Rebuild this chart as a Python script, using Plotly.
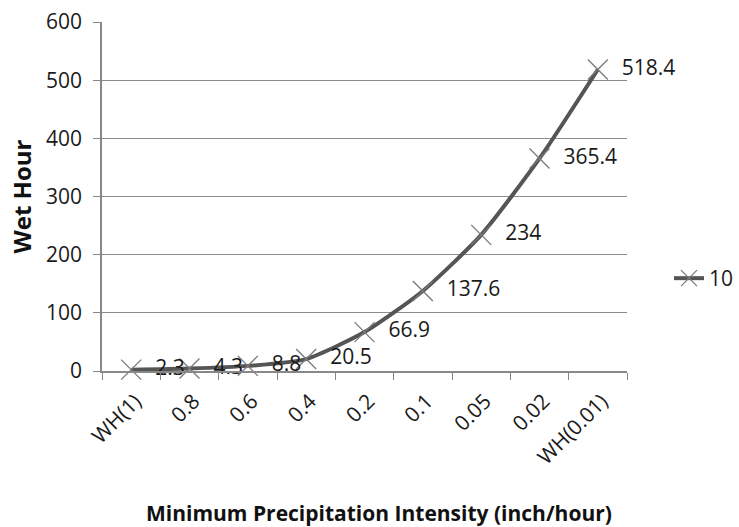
import plotly.graph_objects as go

categories = ["WH(1)", "0.8", "0.6", "0.4", "0.2", "0.1", "0.05", "0.02", "WH(0.01)"]
values = [2.3, 4.3, 8.8, 20.5, 66.9, 137.6, 234, 365.4, 518.4]
labels = ["2.3", "4.3", "8.8", "20.5", "66.9", "137.6", "234", "365.4", "518.4"]
series_name = "10"
x_title = "Minimum Precipitation Intensity (inch/hour)"
y_title = "Wet Hour"

FONT = "Open Sans"
TXT = "#1a1a1a"

fig = go.Figure()
fig.add_trace(go.Scatter(
    x=categories, y=values, name=series_name,
    mode="lines+markers+text",
    text=["\u2002" + t for t in labels], textposition="middle right",
    textfont=dict(family=FONT, size=21, color=TXT),
    line=dict(color="#555555", width=4, shape="spline", smoothing=0.6),
    marker=dict(symbol="x-thin-open", size=20, color="#7a7a7a",
                line=dict(color="#7a7a7a", width=1.3)),
    cliponaxis=False,
))

fig.add_annotation(
    text="<b>" + x_title + "</b>", xref="paper", yref="paper",
    x=0.528, y=-0.407, xanchor="center", yanchor="middle", showarrow=False,
    font=dict(family=FONT, size=21, color="#111111"),
)

fig.update_layout(
    width=739, height=527,
    margin=dict(l=102, r=112, t=22, b=156, autoexpand=False),
    paper_bgcolor="white", plot_bgcolor="white",
    font=dict(family=FONT, size=21, color=TXT),
    showlegend=True,
    legend=dict(x=1.08, y=0.265, xanchor="left", yanchor="middle",
                font=dict(family=FONT, size=21, color=TXT),
                itemwidth=30, bgcolor="rgba(0,0,0,0)"),
    xaxis=dict(
        type="category", range=[-0.5, 8.5], automargin=False,
        tickson="boundaries", ticks="outside", ticklen=7, tickcolor="#888888",
        showline=True, linecolor="#888888", linewidth=1.5,
        showgrid=False, tickangle=-45,
        ticklabelstandoff=8, ticklabelshift=4,
        tickfont=dict(family=FONT, size=21, color=TXT),
    ),
    yaxis=dict(
        range=[0, 600], dtick=100, tick0=0, automargin=False,
        ticks="outside", ticklen=7, tickcolor="#888888",
        showline=True, linecolor="#888888", linewidth=1.5,
        showgrid=True, gridcolor="#8c8c8c", gridwidth=1.2,
        zeroline=False, ticklabelstandoff=7,
        tickfont=dict(family=FONT, size=21, color=TXT),
        title=dict(text="<b>" + y_title + "</b>",
                   font=dict(family=FONT, size=24, color="#111111"), standoff=8),
    ),
)

fig.write_html("out.html")
